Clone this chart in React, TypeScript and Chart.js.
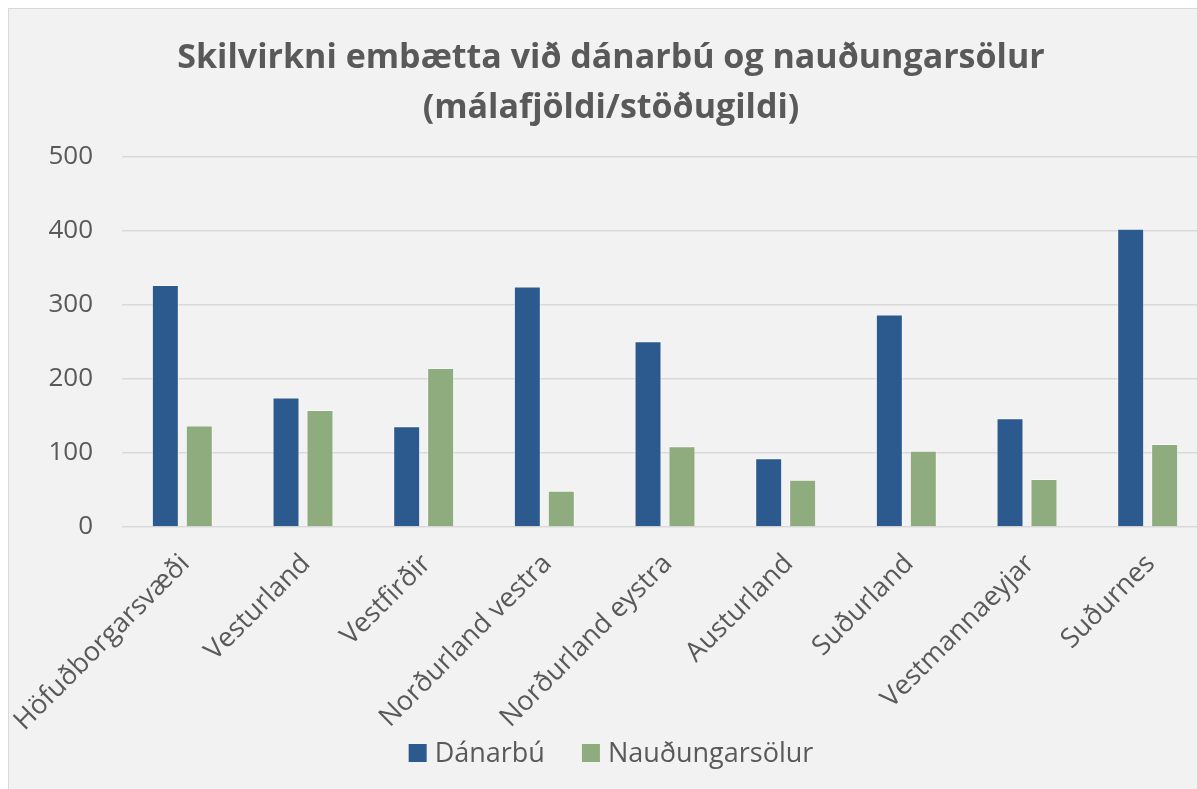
import React, { useEffect, useRef } from "react";
import { Chart, registerables } from "chart.js";

Chart.register(...registerables);

const categories = [
  "Höfuðborgarsvæði",
  "Vesturland",
  "Vestfirðir",
  "Norðurland vestra",
  "Norðurland eystra",
  "Austurland",
  "Suðurland",
  "Vestmannaeyjar",
  "Suðurnes",
];
const danarbu = [327, 175, 136, 325, 251, 93, 287, 147, 403];
const naudungarsolur = [137, 158, 215, 49, 109, 64, 103, 65, 112];
const titleLines = ["Skilvirkni embætta við dánarbú og nauðungarsölur", "(málafjöldi/stöðugildi)"];
const yTicks = [0, 100, 200, 300, 400, 500];

const FONT = "'Open Sans', 'Noto Sans', sans-serif";
const TEXT = "#595959";
const BLUE = "#2d5a8e";
const GREEN = "#8fac7e";

const legendPlugin = {
  id: "customLegend",
  afterDraw(chart: any) {
    const ctx = chart.ctx as CanvasRenderingContext2D;
    ctx.save();
    ctx.font = `27px ${FONT}`;
    const items = chart.data.datasets.map((ds: any) => ({ text: ds.label, color: ds.backgroundColor }));
    const box = 18;
    const gapText = 8;
    const gapItem = 37;
    const widths = items.map((it: any) => ctx.measureText(it.text).width);
    const total =
      widths.reduce((a: number, w: number) => a + box + gapText + w, 0) + gapItem * (items.length - 1);
    let x = chart.width / 2 - total / 2;
    const boxTop = 735;
    const baseline = 753;
    items.forEach((it: any, i: number) => {
      ctx.fillStyle = it.color;
      ctx.fillRect(x, boxTop, box, box);
      ctx.fillStyle = TEXT;
      ctx.textAlign = "left";
      ctx.textBaseline = "alphabetic";
      ctx.fillText(it.text, x + box + gapText, baseline);
      x += box + gapText + widths[i] + gapItem;
    });
    ctx.restore();
  },
};

export default function App() {
  const ref = useRef<HTMLCanvasElement | null>(null);
  useEffect(() => {
    if (!ref.current) return;
    const chart = new Chart(ref.current, {
      type: "bar",
      data: {
        labels: categories,
        datasets: [
          {
            label: "Dánarbú",
            data: danarbu,
            backgroundColor: BLUE,
            borderColor: "rgba(255,255,255,0.45)",
            borderWidth: 1,
            categoryPercentage: 0.563,
            barPercentage: 0.794,
          },
          {
            label: "Nauðungarsölur",
            data: naudungarsolur,
            backgroundColor: GREEN,
            borderColor: "rgba(255,255,255,0.45)",
            borderWidth: 1,
            categoryPercentage: 0.563,
            barPercentage: 0.794,
          },
        ],
      },
      plugins: [legendPlugin],
      options: {
        animation: false,
        responsive: false,
        maintainAspectRatio: false,
        layout: { padding: { left: 5, right: 5, top: 24, bottom: 42 } },
        plugins: {
          title: {
            display: true,
            text: titleLines,
            color: TEXT,
            font: { family: FONT, size: 34, weight: "bold", lineHeight: 1.47 },
            padding: { top: 0, bottom: 24 },
          },
          legend: { display: false },
          tooltip: { enabled: false },
        },
        scales: {
          x: {
            grid: { display: false },
            border: { display: false },
            ticks: {
              color: TEXT,
              font: { family: FONT, size: 27 },
              minRotation: 45,
              maxRotation: 45,
              padding: 13,
              labelOffset: 3,
            },
            afterFit: (s: any) => {
              s.paddingLeft = 0;
              s.paddingRight = 0;
              s.height = 230;
            },
          },
          y: {
            min: 0,
            max: 500,
            grid: { color: "#d9d9d9", lineWidth: 1.5, drawTicks: false },
            border: { display: false },
            afterBuildTicks: (s: any) => {
              s.ticks = yTicks.map((v) => ({ value: v }));
            },
            afterFit: (s: any) => {
              s.width = 108;
            },
            ticks: {
              color: TEXT,
              font: { family: FONT, size: 26 },
              padding: 29,
            },
          },
        },
      },
    });
    return () => chart.destroy();
  }, []);

  return (
    <div
      style={{
        position: "fixed",
        left: 8,
        top: 8,
        width: 1189,
        height: 781,
        overflow: "hidden",
        background: "#f2f2f2",
        borderLeft: "1px solid #d9d9d9",
        borderTop: "1px solid #d9d9d9",
      }}
    >
      <canvas ref={ref} width={1204} height={790} style={{ display: "block", width: 1204, height: 790 }} />
    </div>
  );
}
